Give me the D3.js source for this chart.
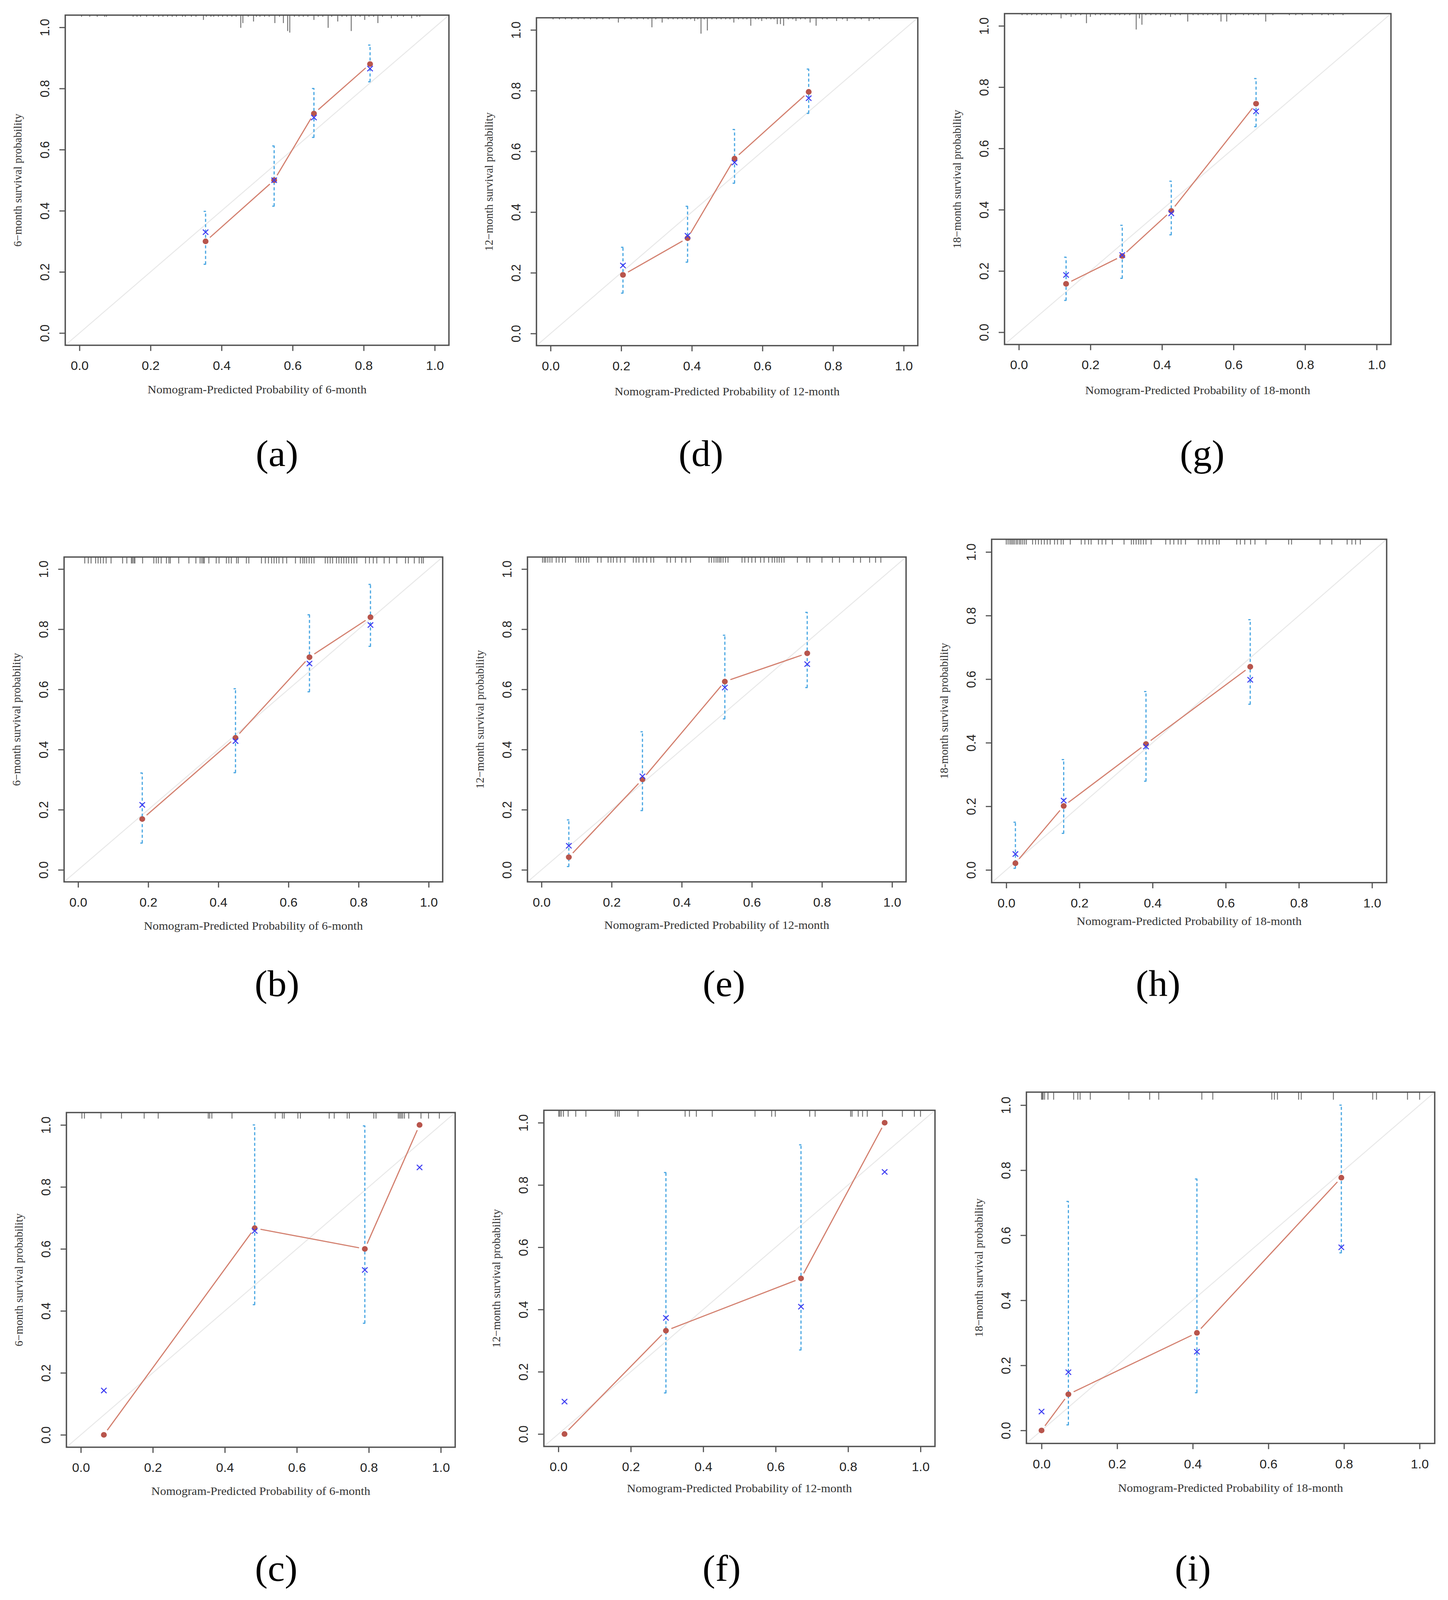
<!DOCTYPE html>
<html>
<head>
<meta charset="utf-8">
<script src="https://cdn.jsdelivr.net/npm/d3@7"></script>
<style>
  html, body { margin: 0; padding: 0; background: #fff; overflow: hidden; }
  svg { display: block; }
  .tick text { font-family: "Liberation Sans", Arial, sans-serif; fill: #222; }
  .axisTitle { font-family: "Liberation Serif", "Times New Roman", serif; fill: #333; }
  .panelLabel { font-family: "Liberation Serif", "Times New Roman", serif; fill: #000; }
</style>
</head>
<body>
<div id="chart"></div>
<script>
// calibration groups: [predicted, observed, KM estimate, CI low, CI high]
const calA = [[0.355, 0.300, 0.330, 0.225, 0.398], [0.548, 0.500, 0.500, 0.415, 0.612], [0.660, 0.718, 0.705, 0.640, 0.800], [0.818, 0.880, 0.865, 0.822, 0.942]];
const calD = [[0.205, 0.193, 0.224, 0.133, 0.284], [0.388, 0.314, 0.322, 0.235, 0.419], [0.521, 0.576, 0.563, 0.495, 0.672], [0.731, 0.796, 0.775, 0.725, 0.871]];
const calG = [[0.132, 0.158, 0.187, 0.104, 0.245], [0.289, 0.249, 0.252, 0.176, 0.349], [0.426, 0.396, 0.388, 0.318, 0.493], [0.663, 0.746, 0.721, 0.671, 0.828]];
const calB = [[0.183, 0.169, 0.216, 0.089, 0.322], [0.449, 0.439, 0.428, 0.323, 0.602], [0.660, 0.707, 0.686, 0.592, 0.848], [0.834, 0.840, 0.814, 0.743, 0.949]];
const calE = [[0.078, 0.042, 0.080, 0.011, 0.166], [0.288, 0.301, 0.311, 0.197, 0.459], [0.523, 0.626, 0.606, 0.502, 0.780], [0.758, 0.720, 0.684, 0.606, 0.856]];
const calH = [[0.025, 0.021, 0.050, 0.005, 0.150], [0.157, 0.201, 0.218, 0.115, 0.347], [0.382, 0.396, 0.388, 0.279, 0.561], [0.667, 0.639, 0.598, 0.521, 0.787]];
const calC = [[0.064, 0.000, 0.143, null, null], [0.483, 0.667, 0.658, 0.420, 1.000], [0.789, 0.600, 0.532, 0.360, 0.997], [0.941, 1.000, 0.863, null, null]];
const calF = [[0.017, 0.000, 0.104, null, null], [0.297, 0.332, 0.373, 0.132, 0.840], [0.670, 0.500, 0.409, 0.270, 0.929], [0.901, 1.000, 0.842, null, null]];
const calI = [[0.000, 0.000, 0.058, null, null], [0.071, 0.111, 0.179, 0.017, 0.704], [0.411, 0.300, 0.242, 0.116, 0.773], [0.793, 0.777, 0.563, 0.546, 1.000]];

// risk distribution spikes along the top: value, or [value, count]
const rugA = [0.006, 0.029, 0.050, 0.071, 0.076, 0.151, 0.162, 0.172, 0.189, 0.208, 0.223, 0.235, 0.248, 0.261, 0.273, 0.290, 0.298, 0.315, 0.328, [0.349, 3], 0.357, 0.370, 0.378, 0.391, 0.403, 0.416, 0.429, 0.441, [0.454, 8], [0.460, 5], 0.475, [0.490, 4], 0.498, 0.508, 0.521, 0.534, [0.550, 5], 0.563, [0.574, 5], [0.586, 10], [0.592, 11], 0.605, 0.618, 0.630, 0.643, [0.660, 3], 0.672, 0.685, [0.700, 8], 0.710, [0.727, 4], 0.739, 0.752, [0.765, 10], 0.777, 0.790, [0.803, 3], 0.815, 0.828, [0.840, 5], 0.853, [0.878, 2], 0.895, 0.912, [0.935, 2], 0.950, 0.958];
const rugD = [0.007, 0.025, 0.042, 0.060, 0.078, 0.095, 0.113, 0.131, 0.148, 0.166, [0.192, 3], 0.210, 0.228, 0.245, 0.263, 0.276, [0.287, 6], 0.298, [0.316, 3], 0.333, 0.347, 0.360, 0.373, 0.386, 0.397, [0.408, 2], 0.417, [0.426, 10], 0.435, [0.444, 8], 0.457, 0.470, 0.483, 0.496, 0.508, [0.519, 3], 0.532, 0.545, 0.556, [0.567, 5], 0.580, 0.589, [0.598, 2], 0.611, 0.624, 0.633, [0.642, 4], [0.651, 4], [0.660, 5], 0.673, 0.686, [0.695, 2], 0.708, 0.721, [0.735, 3], [0.752, 5], 0.770, 0.783, [0.810, 2], 0.827, [0.840, 2], 0.862, 0.880, [0.902, 2], 0.915, 0.931];
const rugG = [0.009, 0.023, 0.036, 0.050, 0.064, 0.077, 0.091, [0.118, 3], 0.132, [0.146, 2], 0.159, 0.173, [0.189, 6], [0.200, 2], 0.214, 0.228, 0.241, 0.255, 0.269, 0.282, 0.296, 0.310, [0.328, 10], [0.337, 3], [0.344, 7], 0.355, 0.369, 0.383, 0.396, 0.410, [0.424, 2], 0.437, 0.451, [0.472, 5], 0.487, 0.501, 0.515, 0.528, 0.542, 0.556, [0.565, 5], [0.581, 5], 0.592, 0.606, 0.628, 0.642, 0.656, 0.669, [0.690, 5], 0.710, 0.756, 0.774, 0.792, 0.820, 0.847, 0.865, 0.879, 0.906];
const rugB = [0.019, 0.029, 0.037, 0.050, 0.057, 0.064, 0.072, 0.080, 0.094, 0.127, 0.139, 0.152, 0.155, 0.159, 0.162, 0.184, 0.216, 0.223, 0.229, 0.237, 0.252, 0.259, 0.263, 0.287, 0.316, 0.336, 0.348, 0.353, 0.357, 0.360, 0.373, 0.394, 0.402, 0.423, 0.430, 0.437, 0.452, 0.457, 0.480, 0.487, 0.523, 0.534, 0.543, 0.552, 0.559, 0.566, 0.573, 0.584, 0.595, 0.620, 0.634, 0.641, 0.646, 0.652, 0.659, 0.666, 0.673, 0.705, 0.712, 0.719, 0.726, 0.737, 0.744, 0.751, 0.758, 0.765, 0.772, 0.780, 0.787, 0.795, 0.820, 0.831, 0.842, 0.852, 0.873, 0.888, 0.909, 0.934, 0.942, 0.959, 0.973, 0.980, 0.985];
const rugE = [0.003, 0.008, 0.012, 0.018, 0.024, 0.030, 0.042, 0.050, 0.060, 0.068, 0.098, 0.105, 0.112, 0.120, 0.128, 0.135, 0.160, 0.170, 0.190, 0.198, 0.205, 0.215, 0.225, 0.238, 0.262, 0.270, 0.278, 0.290, 0.300, 0.312, 0.320, 0.358, 0.368, 0.382, 0.400, 0.412, 0.425, 0.478, 0.485, 0.492, 0.498, 0.503, 0.508, 0.512, 0.518, 0.525, 0.532, 0.572, 0.580, 0.590, 0.600, 0.610, 0.625, 0.635, 0.648, 0.658, 0.665, 0.672, 0.678, 0.685, 0.692, 0.730, 0.757, 0.765, 0.800, 0.830, 0.850, 0.890, 0.910, 0.936, 0.953, 0.968];
const rugH = [0.000, 0.005, 0.010, 0.014, 0.018, 0.022, 0.027, 0.031, 0.036, 0.040, 0.045, 0.050, 0.055, 0.072, 0.080, 0.088, 0.096, 0.104, 0.112, 0.120, 0.132, 0.140, 0.150, 0.156, 0.175, 0.205, 0.215, 0.225, 0.232, 0.252, 0.262, 0.272, 0.290, 0.322, 0.342, 0.348, 0.355, 0.362, 0.368, 0.375, 0.382, 0.396, 0.436, 0.448, 0.458, 0.470, 0.478, 0.490, 0.525, 0.535, 0.545, 0.555, 0.565, 0.575, 0.582, 0.630, 0.640, 0.652, 0.668, 0.680, 0.710, 0.772, 0.780, 0.858, 0.890, 0.932, 0.945, 0.955, 0.968];
const rugC = [0.003, 0.010, 0.056, 0.113, 0.176, 0.215, 0.354, 0.358, 0.364, 0.420, 0.540, 0.560, 0.565, 0.603, 0.610, 0.690, 0.704, 0.740, 0.746, 0.814, 0.820, 0.882, 0.886, 0.890, 0.894, 0.899, 0.911, 0.945, 0.966, 0.996];
const rugF = [0.001, 0.004, 0.008, 0.014, 0.027, 0.048, 0.076, 0.157, 0.163, 0.168, 0.220, 0.350, 0.362, 0.381, 0.425, 0.543, 0.589, 0.599, 0.694, 0.709, 0.807, 0.811, 0.828, 0.840, 0.853, 0.895, 0.950, 0.983, 1.000];
const rugI = [0.000, 0.002, 0.004, 0.008, 0.017, 0.032, 0.085, 0.096, 0.102, 0.129, 0.231, 0.286, 0.310, 0.424, 0.453, 0.609, 0.616, 0.624, 0.680, 0.687, 0.772, 0.876, 0.886, 0.968, 1.000];

const tickValues = [0, 0.2, 0.4, 0.6, 0.8, 1.0];
const xTitles = ["Nomogram-Predicted Probability of 6-month", "Nomogram-Predicted Probability of 12-month", "Nomogram-Predicted Probability of 18-month"];
const yTitles = ["6\u2212month survival probability", "12\u2212month survival probability", "18\u2212month survival probability", "18-month survival probability"];
const panelLabels = ["(a)", "(b)", "(c)", "(d)", "(e)", "(f)", "(g)", "(h)", "(i)"];

// layout of the nine panels (pixel boxes of each plot frame)
const panels = [
  { cal: calA, rug: rugA, unit: 4.2, xt: 0, yt: 0, lab: 0, left: 167, right: 1149, top: 40, bottom: 913, lx: 709, ly: 1232, xOff: 127 },
  { cal: calB, rug: rugB, unit: 17, xt: 0, yt: 0, lab: 1, left: 164, right: 1133, top: 1473, bottom: 2332, lx: 709, ly: 2634, xOff: 126 },
  { cal: calC, rug: rugC, unit: 16, xt: 0, yt: 0, lab: 2, left: 170, right: 1165, top: 2942, bottom: 3827, lx: 707, ly: 4180, xOff: 126 },
  { cal: calD, rug: rugD, unit: 4.2, xt: 1, yt: 1, lab: 3, left: 1373, right: 2349, top: 47, bottom: 914, lx: 1794, ly: 1232, xOff: 131 },
  { cal: calE, rug: rugE, unit: 15, xt: 1, yt: 1, lab: 4, left: 1350, right: 2319, top: 1473, bottom: 2332, lx: 1853, ly: 2634, xOff: 124 },
  { cal: calF, rug: rugF, unit: 17, xt: 1, yt: 1, lab: 5, left: 1392, right: 2393, top: 2936, bottom: 3825, lx: 1847, ly: 4180, xOff: 121 },
  { cal: calG, rug: rugG, unit: 4.2, xt: 2, yt: 2, lab: 6, left: 2571, right: 3560, top: 36, bottom: 911, lx: 3077, ly: 1232, xOff: 131 },
  { cal: calH, rug: rugH, unit: 14, xt: 2, yt: 3, lab: 7, left: 2538, right: 3549, top: 1426, bottom: 2334, lx: 2964, ly: 2634, xOff: 112 },
  { cal: calI, rug: rugI, unit: 20, xt: 2, yt: 2, lab: 8, left: 2627, right: 3672, top: 2888, bottom: 3817, lx: 3053, ly: 4180, xOff: 128 }
];

const width = 3706;
const height = 4231;

// scale the drawing to the window so nothing falls off the bottom
const svg = d3.select("#chart")
  .append("svg")
  .attr("viewBox", `0 0 ${width} ${height}`)
  .attr("preserveAspectRatio", "none")
  .style("width", "100vw")
  .style("height", "100vh");

svg.append("rect")
  .attr("width", width)
  .attr("height", height)
  .attr("fill", "#fff");

panels.forEach(function(p) {

  const xScale = d3.scaleLinear().domain([-0.04, 1.04]).range([p.left, p.right]);
  const yScale = d3.scaleLinear().domain([-0.04, 1.04]).range([p.bottom, p.top]);
  const g = svg.append("g");

  // ideal line
  g.append("line")
    .attr("x1", xScale(-0.04))
    .attr("y1", yScale(-0.04))
    .attr("x2", xScale(1.04))
    .attr("y2", yScale(1.04))
    .attr("stroke", "#e8e8e8")
    .attr("stroke-width", 2.5);

  // spikes of the predicted risk distribution
  const spikes = p.rug.map(function(r) {
    return Array.isArray(r) ? r : [r, 1];
  });
  g.selectAll(".rug")
    .data(spikes)
    .enter()
    .append("line")
    .attr("x1", d => xScale(d[0]))
    .attr("x2", d => xScale(d[0]))
    .attr("y1", yScale(1.04))
    .attr("y2", d => yScale(1.04) + d[1] * p.unit)
    .attr("stroke", "#5a5a5a")
    .attr("stroke-opacity", 0.85)
    .attr("stroke-width", 2.4);

  // observed line, with gaps around the points (type = "b")
  const pts = p.cal.map(d => [xScale(d[0]), yScale(d[1])]);
  const gap = 15;
  for (let i = 0; i < pts.length - 1; i++) {
    const a = pts[i], b = pts[i + 1];
    const dx = b[0] - a[0], dy = b[1] - a[1];
    const len = Math.sqrt(dx * dx + dy * dy);
    if (len <= 2 * gap) continue;
    g.append("line")
      .attr("x1", a[0] + dx / len * gap)
      .attr("y1", a[1] + dy / len * gap)
      .attr("x2", b[0] - dx / len * gap)
      .attr("y2", b[1] - dy / len * gap)
      .attr("stroke", "#d3806f")
      .attr("stroke-width", 3);
  }

  // confidence bars
  const bars = p.cal.filter(d => d[3] != null);
  g.selectAll(".ci")
    .data(bars)
    .enter()
    .append("line")
    .attr("x1", d => xScale(d[0]))
    .attr("x2", d => xScale(d[0]))
    .attr("y1", d => yScale(d[3]))
    .attr("y2", d => yScale(d[4]))
    .attr("stroke", "#48a6e2")
    .attr("stroke-width", 3)
    .attr("stroke-dasharray", "8,6");

  bars.forEach(function(d) {
    [d[3], d[4]].forEach(function(v) {
      g.append("line")
        .attr("x1", xScale(d[0]) - 5)
        .attr("x2", xScale(d[0]) + 1)
        .attr("y1", yScale(v))
        .attr("y2", yScale(v))
        .attr("stroke", "#48a6e2")
        .attr("stroke-width", 3);
    });
  });

  // observed points
  g.selectAll(".obs")
    .data(p.cal)
    .enter()
    .append("circle")
    .attr("cx", d => xScale(d[0]))
    .attr("cy", d => yScale(d[1]))
    .attr("r", 7.5)
    .attr("fill", "#b8554c");

  // KM estimates
  const s = 7;
  g.selectAll(".km")
    .data(p.cal)
    .enter()
    .append("path")
    .attr("transform", d => `translate(${xScale(d[0])},${yScale(d[2])})`)
    .attr("d", `M${-s},${-s}L${s},${s}M${-s},${s}L${s},${-s}`)
    .attr("stroke", "#3c3cf2")
    .attr("stroke-width", 2.6)
    .attr("fill", "none");

  // axes
  const xAxis = g.append("g")
    .attr("transform", `translate(0,${p.bottom})`)
    .call(d3.axisBottom(xScale).tickValues(tickValues).tickFormat(d3.format(".1f")).tickSize(15).tickPadding(27));

  const yAxis = g.append("g")
    .attr("transform", `translate(${p.left},0)`)
    .call(d3.axisLeft(yScale).tickValues(tickValues).tickFormat(d3.format(".1f")).tickSize(15));

  [xAxis, yAxis].forEach(function(ax) {
    ax.select(".domain").remove();
    ax.selectAll(".tick line").attr("stroke", "#555").attr("stroke-width", 3);
    ax.selectAll(".tick text").style("font-size", "33px");
  });

  yAxis.selectAll(".tick text")
    .attr("x", null)
    .attr("dy", null)
    .attr("text-anchor", "middle")
    .attr("transform", "translate(-41,0) rotate(-90)");

  // frame
  g.append("rect")
    .attr("x", p.left)
    .attr("y", p.top)
    .attr("width", p.right - p.left)
    .attr("height", p.bottom - p.top)
    .attr("fill", "none")
    .attr("stroke", "#505050")
    .attr("stroke-width", 3.5);

  // axis titles
  g.append("text")
    .attr("class", "axisTitle")
    .attr("x", (p.left + p.right) / 2)
    .attr("y", p.bottom + p.xOff)
    .attr("text-anchor", "middle")
    .style("font-size", "31px")
    .text(xTitles[p.xt]);

  g.append("text")
    .attr("class", "axisTitle")
    .attr("transform", `translate(${p.left - 112},${(p.top + p.bottom) / 2}) rotate(-90)`)
    .attr("text-anchor", "middle")
    .style("font-size", "30px")
    .text(yTitles[p.yt]);

  // panel letter
  svg.append("text")
    .attr("class", "panelLabel")
    .attr("x", p.lx)
    .attr("y", p.ly)
    .attr("text-anchor", "middle")
    .style("font-size", "98px")
    .text(panelLabels[p.lab]);
});
</script>
</body>
</html>
